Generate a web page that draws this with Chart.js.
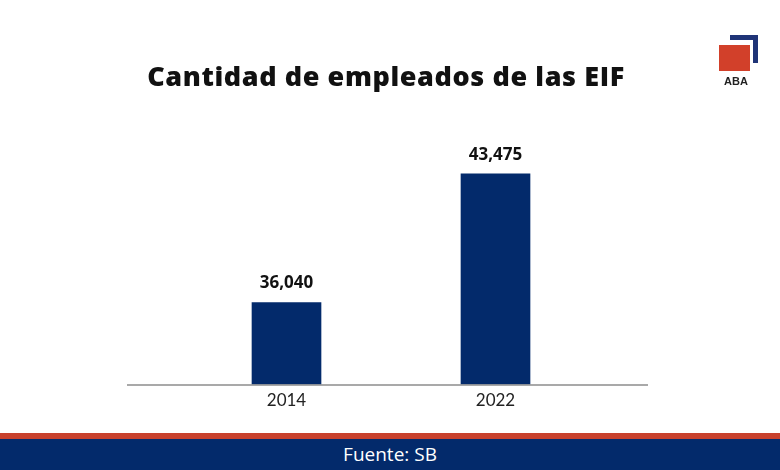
<!DOCTYPE html>
<html>
<head>
<meta charset="utf-8">
<script src="https://cdn.jsdelivr.net/npm/chart.js@4"></script>
<style>
  body { margin: 0; background: #fff; }
  #wrap { position: relative; width: 780px; height: 470px; overflow: hidden; background: #fff; }
  #chart_container { position: absolute; left: 0; top: 0; width: 780px; height: 470px; }
  #title { position: absolute; left: 0; top: 57px; width: 772px; text-align: center;
           font-family: 'Open Sans', sans-serif; font-weight: 800; font-size: 27px; letter-spacing: 0.6px; color: #111; }
  #red_band { position: absolute; left: 0; top: 433px; width: 780px; height: 6px; background: #c8412d; }
  #blue_band { position: absolute; left: 0; top: 439px; width: 780px; height: 31px; background: #032a6b;
               color: #fff; text-align: center; font-family: 'Open Sans', sans-serif; font-size: 19px; line-height: 31px; }
  .logo_red { position: absolute; left: 719px; top: 45px; width: 31px; height: 26px; background: #d2402a; }
  .logo_bar_h { position: absolute; left: 730px; top: 35px; width: 28px; height: 5px; background: #1f3477; }
  .logo_bar_v { position: absolute; left: 753px; top: 35px; width: 5px; height: 28px; background: #1f3477; }
  .logo_txt { position: absolute; left: 720px; top: 75px; width: 32px; text-align: center;
              font-family: 'Liberation Sans', sans-serif; font-weight: bold; font-size: 11px; color: #222; }
</style>
</head>
<body>
<div id="wrap">
  <div id="chart_container"><canvas id="empleados_plot"></canvas></div>
  <div id="title">Cantidad de empleados de las EIF</div>
  <div class="logo_bar_h"></div>
  <div class="logo_bar_v"></div>
  <div class="logo_red"></div>
  <div class="logo_txt">ABA</div>
  <div id="red_band"></div>
  <div id="blue_band">Fuente: SB</div>
</div>
<script>
// data
const YEARS = ['2014', '2022'];
const EMPLEADOS = [36040, 43475];

const Y_MIN = 31300,
      Y_MAX = 46000;

// value labels above each bar
const valueLabels = {
  id: 'valueLabels',
  afterDatasetsDraw(chart) {
    const ctx = chart.ctx;
    const meta = chart.getDatasetMeta(0);
    ctx.save();
    ctx.font = 'bold 17px "Open Sans", sans-serif';
    ctx.fillStyle = '#111';
    ctx.textAlign = 'center';
    ctx.textBaseline = 'middle';
    meta.data.forEach((bar, i) => {
      ctx.fillText(EMPLEADOS[i].toLocaleString('en-US'), bar.x, bar.y - 19);
    });
    ctx.restore();
  }
};

// baseline runs wider than the plot area
const baseLine = {
  id: 'baseLine',
  afterDatasetsDraw(chart) {
    const ctx = chart.ctx;
    const area = chart.chartArea;
    ctx.save();
    ctx.strokeStyle = '#8c8c8c';
    ctx.lineWidth = 1.5;
    ctx.beginPath();
    ctx.moveTo(area.left - 55, area.bottom + 0.5);
    ctx.lineTo(area.right + 48, area.bottom + 0.5);
    ctx.stroke();
    ctx.restore();
  }
};

function plotEmpleados() {
  let ctx = document.getElementById('empleados_plot');
  window.empleados_plot = new Chart(ctx, {
    type: 'bar',
    data: {
      labels: YEARS,
      datasets: [{
        data: EMPLEADOS,
        backgroundColor: '#032a6b',
        barThickness: 69,
      }]
    },
    options: {
      responsive: true,
      maintainAspectRatio: false,
      animation: false,
      layout: {
        padding: { left: 182, right: 180, top: 130, bottom: 53 }
      },
      plugins: {
        legend: { display: false },
        tooltip: { enabled: false },
      },
      scales: {
        x: {
          grid: { display: false, drawTicks: false },
          border: { display: false },
          ticks: {
            color: '#222',
            padding: 6,
            font: { family: 'Lato', size: 17 }
          }
        },
        y: {
          display: false,
          min: Y_MIN,
          max: Y_MAX,
        }
      }
    },
    plugins: [valueLabels, baseLine]
  });
}

plotEmpleados();
</script>
</body>
</html>
